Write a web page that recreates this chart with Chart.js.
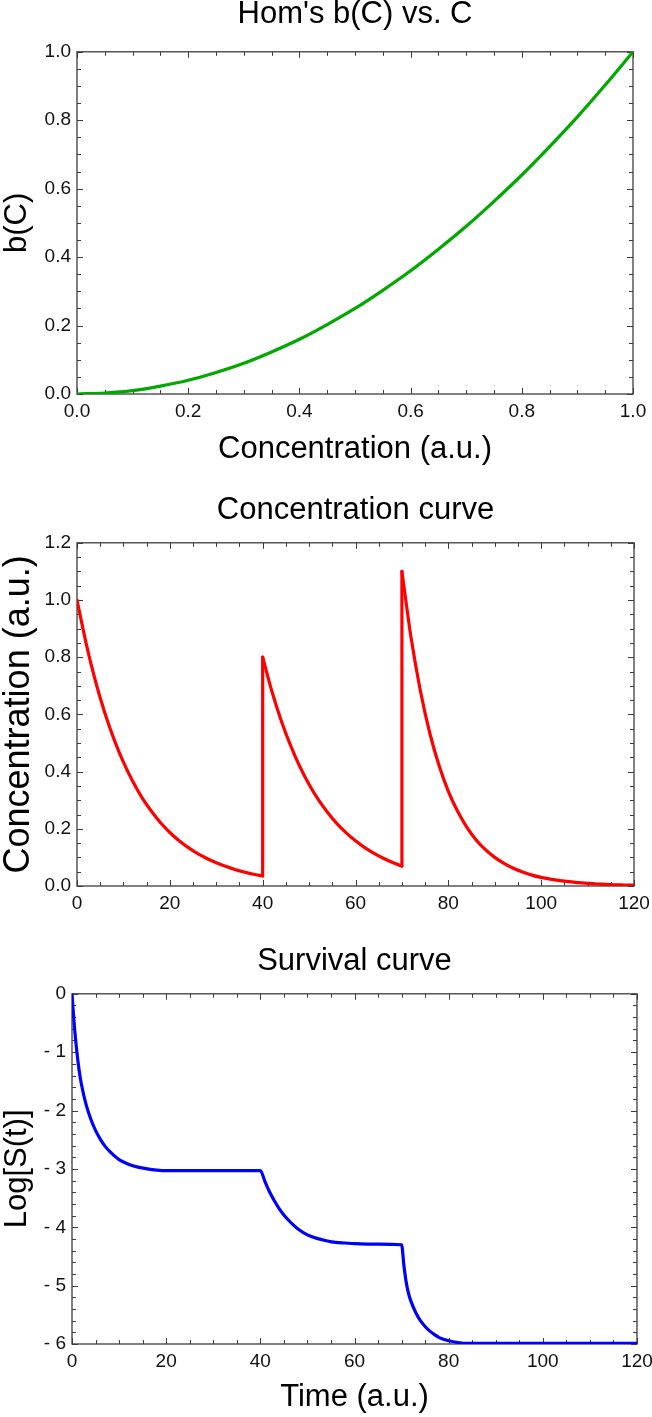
<!DOCTYPE html>
<html>
<head>
<meta charset="utf-8">
<script src="https://cdn.jsdelivr.net/npm/chart.js@4.4.1/dist/chart.umd.min.js"></script>
<style>
  body { margin: 0; background: #fff; width: 652px; height: 1417px; overflow: hidden; position: relative; }
  canvas { position: absolute; left: 0; display: block; }
</style>
</head>
<body>
<canvas id="bChart" width="652" height="480" style="top:0px"></canvas>
<canvas id="concChart" width="652" height="450" style="top:480px"></canvas>
<canvas id="survChart" width="652" height="487" style="top:930px"></canvas>
<script>
// values

// panel 1: Hom's b(C)
const concLevels = [0, 0.05, 0.1, 0.15, 0.2, 0.25, 0.3, 0.35, 0.4, 0.45, 0.5,
                    0.55, 0.6, 0.65, 0.7, 0.75, 0.8, 0.85, 0.9, 0.95, 1.0];
const bValues = [0, 0.003, 0.010, 0.023, 0.040, 0.063, 0.090, 0.123, 0.160, 0.203, 0.250,
                 0.303, 0.360, 0.423, 0.490, 0.563, 0.640, 0.723, 0.810, 0.903, 1.000];
const unitTicks = [0, 0.2, 0.4, 0.6, 0.8, 1.0];
const unitTickLabels = ['0.0', '0.2', '0.4', '0.6', '0.8', '1.0'];

// panel 2: concentration curve (two doses at t = 40 and t = 70)
const concTime = [0, 2, 4, 6, 8, 10, 12, 14, 16, 18, 20, 22, 24, 26, 28, 30, 32, 34, 36, 38, 40,
                  40, 42, 44, 46, 48, 50, 52, 54, 56, 58, 60, 62, 64, 66, 68, 70,
                  70, 72, 74, 76, 78, 80, 82, 84, 86, 88, 90, 92, 94, 96, 98, 100,
                  102, 104, 106, 108, 110, 112, 114, 116, 118, 120];
const concValues = [1.000, 0.846, 0.715, 0.605, 0.512, 0.433, 0.366, 0.309, 0.262, 0.221, 0.187,
                    0.158, 0.134, 0.113, 0.096, 0.081, 0.069, 0.058, 0.049, 0.041, 0.035,
                    0.800, 0.680, 0.578, 0.492, 0.418, 0.355, 0.302, 0.257, 0.218, 0.186, 0.158,
                    0.134, 0.114, 0.097, 0.082, 0.070,
                    1.100, 0.865, 0.681, 0.535, 0.421, 0.331, 0.261, 0.205, 0.161, 0.127, 0.100,
                    0.079, 0.062, 0.049, 0.038, 0.030, 0.024, 0.019, 0.015, 0.012, 0.009,
                    0.007, 0.006, 0.004, 0.0035, 0.003];
const timeTicks = [0, 20, 40, 60, 80, 100, 120];
const timeTickLabels = ['0', '20', '40', '60', '80', '100', '120'];
const concTicks = [0, 0.2, 0.4, 0.6, 0.8, 1.0, 1.2];
const concTickLabels = ['0.0', '0.2', '0.4', '0.6', '0.8', '1.0', '1.2'];

// panel 3: survival curve
const survTime = [0, 0.5, 1, 1.5, 2, 3, 4, 5, 6, 7, 8, 10, 12, 14, 16, 18, 20, 25, 30, 35, 40,
                  41, 42, 43, 44, 45, 46, 47, 48, 50, 52, 54, 56, 58, 60, 65, 70,
                  70.5, 71, 71.5, 72, 73, 74, 75, 76, 77, 78, 80, 82, 84, 86, 90, 100, 110, 120];
const logSurvival = [0, -0.55, -0.97, -1.30, -1.55, -1.90, -2.15, -2.34, -2.49, -2.61, -2.70,
                     -2.84, -2.92, -2.97, -3.00, -3.02, -3.03, -3.03, -3.03, -3.03, -3.03,
                     -3.22, -3.40, -3.55, -3.68, -3.79, -3.88, -3.96, -4.03, -4.13, -4.19,
                     -4.23, -4.26, -4.27, -4.28, -4.29, -4.30,
                     -4.66, -4.95, -5.14, -5.27, -5.46, -5.60, -5.70, -5.78, -5.84, -5.89,
                     -5.945, -5.975, -5.99, -5.99, -5.99, -5.99, -5.99, -5.99];
const logTicks = [-6, -5, -4, -3, -2, -1, 0];
const logTickLabels = ['- 6', '- 5', '- 4', '- 3', '- 2', '- 1', '0'];

const family = '"Liberation Sans", Arial, Helvetica, sans-serif';

// frame around the plot with inward major/minor ticks on all four sides
const frameTicks = {
  id: 'frameTicks',
  beforeDatasetsDraw(chart, args, opts) {
    const {ctx, chartArea: a, scales: {x, y}} = chart;
    ctx.save();
    ctx.strokeStyle = '#3c3c3c';
    ctx.lineWidth = 1.3;
    ctx.strokeRect(a.left, a.top, a.right - a.left, a.bottom - a.top);
    ctx.lineWidth = 1;
    const isMajor = (scale, v, step) => scale.ticks.some(t => Math.abs(t.value - v) < step / 10);
    const walk = (scale, step, fn) => {
      const n = Math.round((scale.max - scale.min) / step);
      for (let i = 0; i <= n; i++) {
        const v = scale.min + i * step;
        fn(Math.round(scale.getPixelForValue(v)) + 0.5, isMajor(scale, v, step) ? 6 : 4);
      }
    };
    ctx.beginPath();
    walk(x, opts.minorX, (px, len) => {
      ctx.moveTo(px, a.bottom); ctx.lineTo(px, a.bottom - len);
      ctx.moveTo(px, a.top); ctx.lineTo(px, a.top + len);
    });
    walk(y, opts.minorY, (py, len) => {
      ctx.moveTo(a.left, py); ctx.lineTo(a.left + len, py);
      ctx.moveTo(a.right, py); ctx.lineTo(a.right - len, py);
    });
    ctx.stroke();
    ctx.restore();
  }
};

// split a series wherever x repeats (a dose jump): smooth pieces plus straight vertical jumps
function seriesToDatasets(xs, ys, color) {
  const line = {borderColor: color, borderWidth: 3.2, pointRadius: 0, fill: false,
                borderCapStyle: 'round', borderJoinStyle: 'round'};
  const sets = [];
  let piece = [];
  xs.forEach((v, i) => {
    if (i > 0 && v === xs[i - 1]) {
      sets.push({...line, data: piece, cubicInterpolationMode: 'monotone'});
      sets.push({...line, data: [piece[piece.length - 1], {x: v, y: ys[i]}], tension: 0});
      piece = [];
    }
    piece.push({x: v, y: ys[i]});
  });
  sets.push({...line, data: piece, cubicInterpolationMode: 'monotone'});
  return sets;
}

function buildChart(id, cfg) {
  return new Chart(document.getElementById(id), {
    type: 'line',
    data: {datasets: seriesToDatasets(cfg.xs, cfg.ys, cfg.color)},
    options: {
      responsive: false,
      animation: false,
      events: [],
      layout: {padding: {left: 0, right: cfg.padRight, top: 0, bottom: 0}},
      plugins: {
        legend: {display: false},
        tooltip: {enabled: false},
        title: {
          display: true,
          text: cfg.title,
          fullSize: false,
          color: '#000',
          font: {family: family, size: 31, weight: 'normal', lineHeight: 0.8},
          padding: {top: cfg.titleTop, bottom: cfg.titleBottom}
        },
        frameTicks: {minorX: cfg.minorX, minorY: cfg.minorY}
      },
      scales: {
        x: {
          type: 'linear',
          min: cfg.xTicks[0],
          max: cfg.xTicks[cfg.xTicks.length - 1],
          afterBuildTicks: s => { s.ticks = cfg.xTicks.map(v => ({value: v})); },
          afterFit: s => { s.height = cfg.xHeight; s.paddingLeft = 0; s.paddingRight = 0; },
          grid: {display: false, drawTicks: false},
          border: {display: false},
          ticks: {
            padding: 6, color: '#111', maxRotation: 0, autoSkip: false,
            font: {family: family, size: 19},
            callback: (v, i) => cfg.xLabels[i]
          },
          title: {
            display: !!cfg.xTitle,
            text: cfg.xTitle || '',
            color: '#000',
            font: {family: family, size: 31},
            padding: {top: 0, bottom: cfg.xTitleBottom || 0}
          }
        },
        y: {
          type: 'linear',
          min: cfg.yTicks[0],
          max: cfg.yTicks[cfg.yTicks.length - 1],
          afterBuildTicks: s => { s.ticks = cfg.yTicks.map(v => ({value: v})); },
          afterFit: s => { s.width = cfg.yWidth; },
          grid: {display: false, drawTicks: false},
          border: {display: false},
          ticks: {
            padding: 6, color: '#111', autoSkip: false,
            font: {family: family, size: 19},
            callback: (v, i) => cfg.yLabels[i]
          },
          title: {
            display: true,
            text: cfg.yTitle,
            color: '#000',
            font: {family: family, size: cfg.yTitleSize, lineHeight: 1},
            padding: {top: cfg.yTitleOffset, bottom: 0}
          }
        }
      }
    },
    plugins: [frameTicks]
  });
}

buildChart('bChart', {
  xs: concLevels, ys: bValues, color: '#00a800',
  title: "Hom's b(C) vs. C", titleTop: 2, titleBottom: 25,
  xTicks: unitTicks, xLabels: unitTickLabels, xTitle: 'Concentration (a.u.)', xTitleBottom: 12,
  yTicks: unitTicks, yLabels: unitTickLabels, yTitle: 'b(C)', yTitleSize: 31, yTitleOffset: 2,
  xHeight: 86, yWidth: 77, padRight: 19, minorX: 0.05, minorY: 0.05
});

buildChart('concChart', {
  xs: concTime, ys: concValues, color: '#ff0000',
  title: 'Concentration curve', titleTop: 18, titleBottom: 20,
  xTicks: timeTicks, xLabels: timeTickLabels,
  yTicks: concTicks, yLabels: concTickLabels, yTitle: 'Concentration (a.u.)', yTitleSize: 36, yTitleOffset: 1,
  xHeight: 44, yWidth: 77, padRight: 18, minorX: 5, minorY: 0.05
});

buildChart('survChart', {
  xs: survTime, ys: logSurvival, color: '#0000ff',
  title: 'Survival curve', titleTop: 19, titleBottom: 20,
  xTicks: timeTicks, xLabels: timeTickLabels, xTitle: 'Time (a.u.)', xTitleBottom: 1,
  yTicks: logTicks, yLabels: logTickLabels, yTitle: 'Log[S(t)]', yTitleSize: 31, yTitleOffset: 2,
  xHeight: 73, yWidth: 72, padRight: 15, minorX: 5, minorY: 0.2
});
</script>
</body>
</html>
